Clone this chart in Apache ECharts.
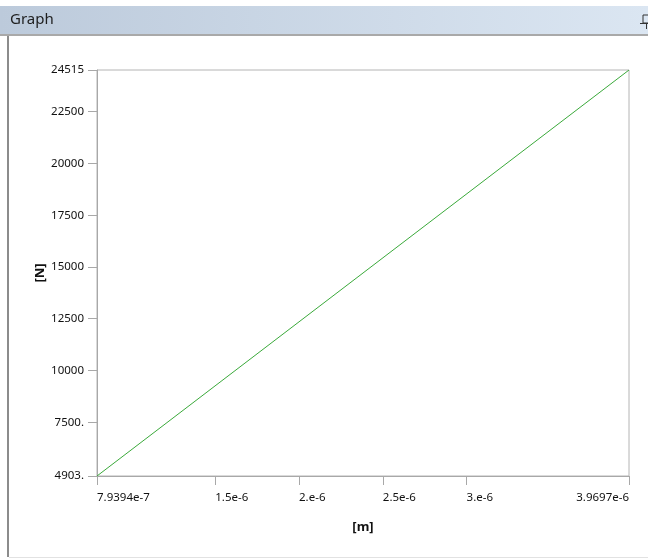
<!DOCTYPE html>
<html><head><meta charset="utf-8">
<script src="https://cdn.jsdelivr.net/npm/echarts@6/dist/echarts.min.js"></script>
<style>html,body{margin:0;padding:0;background:#fff}#c{width:648px;height:560px}</style>
</head><body><div id="c"></div>
<script>
const xValues = [7.9394e-7, 3.9697e-6];
const yValues = [4903, 24515];
const xTickValues = [7.9394e-7, 1.5e-6, 2e-6, 2.5e-6, 3e-6, 3.9697e-6];
const xTickLabels = ['7.9394e-7', '1.5e-6', '2.e-6', '2.5e-6', '3.e-6', '3.9697e-6'];
const yTickValues = [4903, 7500, 10000, 12500, 15000, 17500, 20000, 22500, 24515];
const yTickLabels = ['4903.', '7500.', '10000', '12500', '15000', '17500', '20000', '22500', '24515'];

function lab(vals, labs, v) {
  const i = vals.findIndex(t => Math.abs(t - v) <= Math.abs(t) * 1e-6);
  return i >= 0 ? labs[i] : '';
}
const FONT = 'Noto Sans';
const chart = echarts.init(document.getElementById('c'), null, {renderer: 'canvas'});
chart.setOption({
  animation: false,
  backgroundColor: '#fff',
  grid: {left: 97, right: 19, top: 70, bottom: 84, show: true, borderColor: '#b4b4b4', borderWidth: 1, backgroundColor: 'transparent'},
  xAxis: {
    type: 'value', min: xValues[0], max: xValues[xValues.length - 1],
    name: '[m]', nameLocation: 'middle', nameGap: 45,
    nameTextStyle: {fontFamily: FONT, fontSize: 13, fontWeight: 'bold', color: '#111'},
    axisLine: {show: true, lineStyle: {color: '#a8a8a8', width: 1}},
    axisTick: {show: true, length: 9, inside: false, customValues: xTickValues, lineStyle: {color: '#a8a8a8'}},
    splitLine: {show: false},
    axisLabel: {customValues: xTickValues, formatter: v => lab(xTickValues, xTickLabels, v), align: 'left', alignMaxLabel: 'right', margin: 16, fontFamily: FONT, fontSize: 11.5, color: '#111', showMinLabel: true, showMaxLabel: true, hideOverlap: false}
  },
  yAxis: {
    type: 'value', min: yValues[0], max: yValues[yValues.length - 1],
    name: '[N]', nameLocation: 'middle', nameGap: 50, nameRotate: 90, nameMoveOverlap: false,
    nameTextStyle: {fontFamily: FONT, fontSize: 13, fontWeight: 'bold', color: '#111'},
    axisLine: {show: true, lineStyle: {color: '#a8a8a8', width: 1}},
    axisTick: {show: true, length: 9, inside: false, customValues: yTickValues, lineStyle: {color: '#a8a8a8'}},
    splitLine: {show: false},
    axisLabel: {customValues: yTickValues, formatter: v => lab(yTickValues, yTickLabels, v), margin: 13, fontFamily: FONT, fontSize: 11.5, color: '#111', showMinLabel: true, showMaxLabel: true, hideOverlap: false}
  },
  series: [{
    type: 'line', data: xValues.map((x, i) => [x, yValues[i]]),
    showSymbol: false, lineStyle: {color: '#3aa93a', width: 1}, silent: true
  }],
  graphic: [
    {type: 'rect', shape: {x: 0, y: 6, width: 648, height: 29}, style: {fill: new echarts.graphic.LinearGradient(0, 0, 1, 0, [{offset: 0, color: '#bccadb'}, {offset: 1, color: '#dbe6f2'}])}, silent: true},
    {type: 'rect', shape: {x: 0, y: 34, width: 648, height: 2}, style: {fill: '#a9a9a9'}, silent: true},
    {type: 'text', left: 10, top: 12, style: {text: 'Graph', font: '15px "Noto Sans"', fill: '#1e1e1e'}, silent: true},
    {type: 'rect', shape: {x: 643, y: 15, width: 7, height: 8}, style: {fill: 'none', stroke: '#333', lineWidth: 1}, silent: true},
    {type: 'line', shape: {x1: 640, y1: 23.5, x2: 653, y2: 23.5}, style: {stroke: '#333', lineWidth: 1}, silent: true},
    {type: 'line', shape: {x1: 646.5, y1: 23.5, x2: 646.5, y2: 29}, style: {stroke: '#333', lineWidth: 1}, silent: true},
    {type: 'rect', shape: {x: 7, y: 36, width: 2, height: 521}, style: {fill: '#8c8c8c'}, silent: true},
    {type: 'rect', shape: {x: 9, y: 557, width: 639, height: 1}, style: {fill: '#e2e2e2'}, silent: true}
  ]
});
</script></body></html>
